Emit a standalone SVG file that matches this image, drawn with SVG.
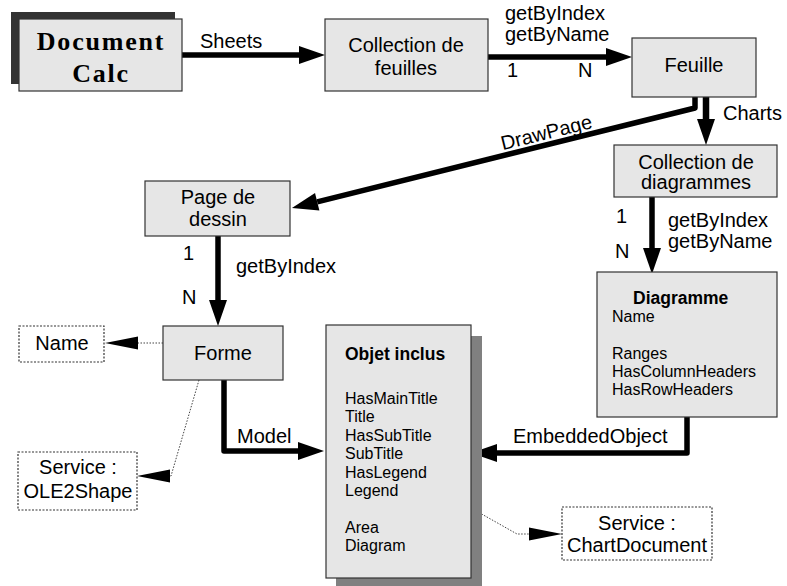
<svg xmlns="http://www.w3.org/2000/svg" width="787" height="586" viewBox="0 0 787 586">
<style>
.box{fill:#e6e6e6;stroke:#333;stroke-width:1.2}
.dbox{fill:#fff;stroke:#333;stroke-width:1.2;stroke-dasharray:2,1.5}
.t{font-family:"Liberation Sans",Arial,sans-serif;font-size:20px;fill:#000}
.c{text-anchor:middle}
.p{font-family:"Liberation Sans",Arial,sans-serif;font-size:16px;fill:#000}
.b{font-family:"Liberation Sans",Arial,sans-serif;font-size:17.5px;font-weight:bold;fill:#000}
.thick{fill:none;stroke:#000;stroke-width:5.5;stroke-linejoin:round}
.dot{fill:none;stroke:#444;stroke-width:1;stroke-dasharray:1.5,1.5}
</style>
<defs>
<marker id="ah" markerUnits="userSpaceOnUse" markerWidth="27" markerHeight="18" refX="0" refY="9" orient="auto" overflow="visible">
<path d="M0,0 L26,9 L0,18 z" fill="#000"/>
</marker>
<marker id="dh" markerUnits="userSpaceOnUse" markerWidth="33" markerHeight="13" refX="0" refY="6.5" orient="auto" overflow="visible">
<path d="M0,0 L33,6.5 L0,13 z" fill="#000"/>
</marker>
</defs>

<g id="connectors">
<path class="thick" d="M182,55 L299,55" marker-end="url(#ah)"/>
<text class="t" x="200" y="48">Sheets</text>
<path class="thick" d="M488,57 L606,57" marker-end="url(#ah)"/>
<text class="t" x="505" y="20">getByIndex</text>
<text class="t" x="505" y="41">getByName</text>
<text class="t" x="507" y="77">1</text>
<text class="t" x="578" y="77">N</text>
<path class="thick" d="M706,97 L706,119" marker-end="url(#ah)" style="stroke-width:6.5"/>
<text class="t" x="723" y="120">Charts</text>
<path class="thick" d="M695,97 L695,108 L317.2,201.8" marker-end="url(#ah)"/>
<text class="t c" transform="translate(548,139) rotate(-13.9)" x="0" y="0">DrawPage</text>
<path class="thick" d="M652,197 L652,248" marker-end="url(#ah)"/>
<text class="t" x="616" y="223">1</text>
<text class="t" x="615" y="258">N</text>
<text class="t" x="668" y="227">getByIndex</text>
<text class="t" x="668" y="248">getByName</text>
<path class="thick" d="M218,236 L218,300" marker-end="url(#ah)"/>
<text class="t" x="183" y="260">1</text>
<text class="t" x="236" y="273">getByIndex</text>
<text class="t" x="182" y="304">N</text>
<path class="thick" d="M224,380 L224,451 L298,451" marker-end="url(#ah)"/>
<text class="t" x="237" y="443">Model</text>
<path class="thick" d="M687,417 L687,453 L497,453" marker-end="url(#ah)"/>
<text class="t" x="513" y="443">EmbeddedObject</text>
<path class="dot" d="M163,343 L138,343" marker-end="url(#dh)"/>
<path class="dot" d="M199,380 L171,476 L170,476" marker-end="url(#dh)"/>
<path class="dot" d="M471,508 L517,534 L529,534" marker-end="url(#dh)"/>
</g>

<g id="document-calc">
<rect x="11" y="12" width="164" height="72" fill="#333"/>
<rect class="box" x="19" y="19" width="163" height="72"/>
<text x="101" y="50" text-anchor="middle" font-family="'Liberation Serif','Times New Roman',serif" font-size="26" font-weight="bold" letter-spacing="1.8">Document</text>
<text x="101" y="82" text-anchor="middle" font-family="'Liberation Serif','Times New Roman',serif" font-size="26" font-weight="bold" letter-spacing="1.8">Calc</text>
</g>

<g id="collection-feuilles">
<rect class="box" x="325" y="19" width="163" height="72"/>
<text class="t c" x="406" y="52">Collection de</text>
<text class="t c" x="406" y="75">feuilles</text>
</g>

<g id="feuille">
<rect class="box" x="632" y="38" width="124" height="59"/>
<text class="t c" x="694" y="72">Feuille</text>
</g>

<g id="collection-diagrammes">
<rect class="box" x="614" y="145" width="163" height="52"/>
<text class="t c" x="696" y="169">Collection de</text>
<text class="t c" x="696" y="189">diagrammes</text>
</g>

<g id="page-dessin">
<rect class="box" x="145" y="181" width="145" height="55"/>
<text class="t c" x="218" y="204">Page de</text>
<text class="t c" x="218" y="226">dessin</text>
</g>

<g id="forme">
<rect class="box" x="163" y="326" width="120" height="54"/>
<text class="t c" x="223" y="360">Forme</text>
</g>

<g id="name">
<rect class="dbox" x="19" y="326" width="85" height="36"/>
<text class="t c" x="62" y="350">Name</text>
</g>

<g id="service-ole2shape">
<rect class="dbox" x="18" y="452" width="119" height="58"/>
<text class="t c" x="78" y="474">Service :</text>
<text class="t c" x="78" y="498">OLE2Shape</text>
</g>

<g id="objet-inclus">
<rect x="336" y="336" width="146" height="250" fill="#808080"/>
<rect class="box" x="326" y="325" width="145" height="253"/>
<text class="b" x="345" y="360">Objet inclus</text>
<text class="p" x="345" y="404">HasMainTitle</text>
<text class="p" x="345" y="422">Title</text>
<text class="p" x="345" y="441">HasSubTitle</text>
<text class="p" x="345" y="459">SubTitle</text>
<text class="p" x="345" y="478">HasLegend</text>
<text class="p" x="345" y="496">Legend</text>
<text class="p" x="345" y="533">Area</text>
<text class="p" x="345" y="551">Diagram</text>
</g>

<g id="diagramme">
<rect class="box" x="597" y="272" width="180" height="145"/>
<text class="b" x="633" y="304">Diagramme</text>
<text class="p" x="612" y="322">Name</text>
<text class="p" x="612" y="359">Ranges</text>
<text class="p" x="612" y="377">HasColumnHeaders</text>
<text class="p" x="612" y="395">HasRowHeaders</text>
</g>

<g id="service-chartdocument">
<rect class="dbox" x="562" y="507" width="150" height="53"/>
<text class="t c" x="637" y="530">Service :</text>
<text class="t c" x="637" y="552">ChartDocument</text>
</g>
</svg>
